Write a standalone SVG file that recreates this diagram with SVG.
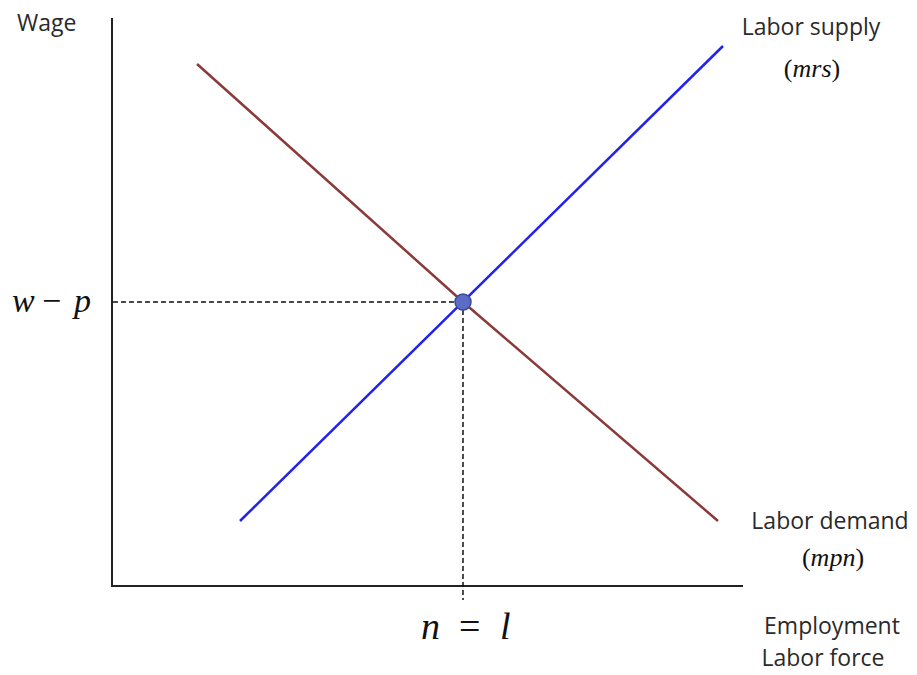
<svg xmlns="http://www.w3.org/2000/svg" width="917" height="675" viewBox="0 0 917 675">
<style>
.lbl{font-family:"Open Sans","Liberation Sans",sans-serif;font-size:23px;fill:#2a2a2a}
.math{font-family:"Liberation Serif","DejaVu Serif",serif;font-style:italic;fill:#111}
.axis{stroke:#222;stroke-width:2;fill:none}
.dash{stroke:#111;stroke-width:1.5;stroke-dasharray:5,3;fill:none}
</style>
<rect width="917" height="675" fill="#fff"/>
<g id="connectors">
<line class="axis" x1="112" y1="18" x2="112" y2="587"/>
<line class="axis" x1="111" y1="586" x2="743" y2="586"/>
<line class="dash" x1="113" y1="302" x2="463" y2="302"/>
<line class="dash" x1="463" y1="302" x2="463" y2="600"/>
<polyline points="197,64 463,302 718,521" fill="none" stroke="#8b3a3a" stroke-width="2.5"/>
<line x1="240" y1="521" x2="723" y2="46" stroke="#2222ee" stroke-width="2.5"/>
</g>
<g id="equilibrium"><circle cx="463" cy="302" r="8" fill="#5b6cc4" stroke="#3a4a9a" stroke-width="1.5"/></g>
<g id="wage"><text class="lbl" x="17" y="31">Wage</text></g>
<g id="supply"><text class="lbl" x="811" y="35" text-anchor="middle">Labor supply</text><text class="math" x="812" y="77" font-size="26" text-anchor="middle"><tspan font-style="normal">(</tspan>mrs<tspan font-style="normal">)</tspan></text></g>
<g id="demand"><text class="lbl" x="830" y="529" text-anchor="middle">Labor demand</text><text class="math" x="833" y="566" font-size="26" text-anchor="middle"><tspan font-style="normal">(</tspan>mpn<tspan font-style="normal">)</tspan></text></g>
<g id="xaxis-label"><text class="lbl" x="832" y="634" text-anchor="middle">Employment</text><text class="lbl" x="823" y="666" text-anchor="middle">Labor force</text></g>
<g id="wp"><text class="math" y="312" font-size="34"><tspan x="12">w</tspan><tspan x="42" font-style="normal">−</tspan><tspan x="74">p</tspan></text></g>
<g id="nl"><text class="math" y="639" font-size="38"><tspan x="421">n</tspan><tspan x="459" font-style="normal">=</tspan><tspan x="500">l</tspan></text></g>
</svg>
